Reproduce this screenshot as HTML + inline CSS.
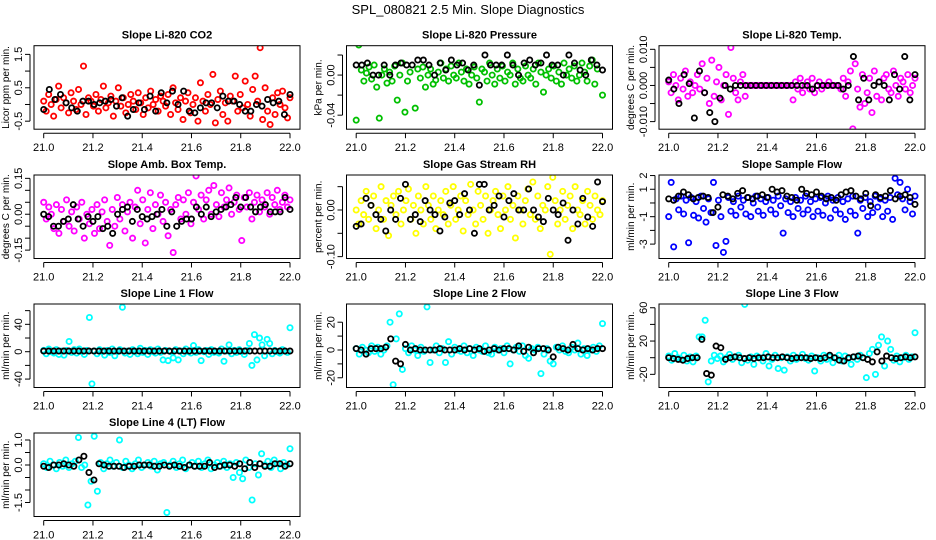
<!DOCTYPE html>
<html><head><meta charset="utf-8">
<style>
html,body{margin:0;padding:0;background:#fff;}
svg{display:block;font-family:"Liberation Sans",Arial,sans-serif;}
</style></head>
<body>
<svg id="chart" width="936" height="540" viewBox="0 0 936 540" xmlns="http://www.w3.org/2000/svg">
<rect width="936" height="540" fill="#fff"/>
<text x="468" y="14" text-anchor="middle" font-size="13">SPL_080821  2.5 Min. Slope Diagnostics</text>
</svg>
<script>
// ---- data (x = time 21.0..22.0, points evenly spaced) ----
const xTicks = [21.0, 21.2, 21.4, 21.6, 21.8, 22.0];
const xTickLabels = ["21.0","21.2","21.4","21.6","21.8","22.0"];

const titles = ["Slope Li-820 CO2","Slope Li-820 Pressure","Slope Li-820 Temp.","Slope Amb. Box Temp.","Slope Gas Stream RH","Slope Sample Flow","Slope Line 1 Flow","Slope Line 2 Flow","Slope Line 3 Flow","Slope Line 4 (LT) Flow"];
const yTitles = ["Licor ppm per min.","kPa per min.","degrees C per min.","degrees C per min.","percent per min.","ml/min per min.","ml/min per min.","ml/min per min.","ml/min per min.","ml/min per min."];
const seriesColors = ["#ff0000","#00c000","#ff00ff","#ff00ff","#ffff00","#0000ff","#00ffff","#00ffff","#00ffff","#00ffff"];

const co2Color = [0.1,-0.2,0.3,0.0,-0.35,0.15,0.55,-0.1,0.2,0.05,-0.25,0.35,0.1,-0.15,0.45,0.0,1.15,-0.3,0.2,0.1,-0.05,0.3,-0.2,0.15,0.55,-0.1,0.05,0.25,-0.35,0.1,0.5,-0.05,0.2,-0.25,0.0,0.3,0.1,-0.15,0.35,0.05,-0.3,0.2,-0.1,0.4,0.0,0.15,-0.2,0.25,0.1,-0.05,0.3,-0.3,0.5,0.05,-0.15,0.2,-0.45,0.1,0.35,-0.25,0.0,0.2,-0.5,0.65,0.1,-0.2,0.3,0.0,0.9,-0.55,0.15,0.4,-0.3,0.05,-0.5,0.25,0.1,0.85,-0.2,0.3,-0.1,0.7,0.0,-0.35,0.45,0.85,0.1,1.7,-0.45,0.5,-0.2,-0.6,0.2,-0.3,0.35,0.0,0.4,-0.1,-0.4,0.2];
const co2Black = [-0.15,0.45,0.15,0.3,0.05,-0.1,-0.2,0.1,0.1,0.0,0.05,0.1,0.15,-0.05,0.2,-0.35,-0.15,0.05,-0.15,0.25,-0.2,0.35,0.05,0.4,0.0,0.4,-0.2,-0.25,-0.1,0.05,0.05,-0.1,0.25,0.1,0.1,0.0,-0.2,-0.2,0.0,-0.05,0.15,0.05,0.1,-0.3,0.3];
const presColor = [-0.045,0.03,0.005,-0.006,0.002,0.008,-0.004,0.01,-0.012,-0.043,0.0,0.006,-0.008,0.003,-0.006,0.009,-0.025,0.0,0.012,-0.037,-0.006,0.003,-0.06,-0.033,0.006,-0.003,0.008,-0.012,0.0,0.006,-0.009,-0.005,0.003,0.012,-0.003,0.006,-0.006,0.009,0.0,-0.003,0.012,0.003,-0.006,0.006,-0.009,0.0,0.008,-0.003,-0.027,0.006,0.003,-0.006,0.012,0.0,-0.009,0.006,-0.003,0.009,-0.006,0.003,0.0,0.012,-0.009,0.006,-0.003,-0.006,0.009,0.0,-0.003,0.006,-0.009,0.012,0.003,-0.017,0.0,0.006,-0.003,0.009,-0.006,0.003,-0.009,0.012,0.0,0.006,-0.003,0.009,-0.006,0.0,0.012,0.003,-0.006,0.009,0.015,-0.009,0.006,0.04,-0.02];
const presBlack = [0.01,0.01,0.012,0.0,0.0,0.01,0.0,0.01,0.012,0.01,0.01,0.015,0.015,0.01,0.0,0.012,0.005,0.015,0.01,0.012,0.005,0.01,-0.01,0.02,0.01,0.01,0.01,0.02,0.01,0.0,0.012,0.015,0.01,0.012,0.02,0.01,0.01,0.0,0.02,0.012,0.005,0.0,0.015,0.01,0.005];
const liTempColor = [0.001,-0.002,0.003,0,-0.004,0.002,-0.001,0.004,-0.003,0.001,-0.002,0,0.003,-0.001,0.006,-0.002,0.002,-0.005,0.007,-0.003,0.001,0.005,-0.004,0,0.003,-0.008,0.0105,0.002,-0.002,-0.004,0.001,0.003,-0.003,0,0,0,0,0,0,0,0,0,0,0,0,0,0,0,0,0,0,0,-0.004,0.001,-0.001,0.002,-0.002,0,0.001,-0.001,0.002,-0.002,0,0.001,-0.001,0,0,0.001,0,0,0,0,-0.001,0.002,-0.003,0.001,0.004,-0.012,0.006,-0.001,-0.006,0.003,-0.005,-0.002,0.002,-0.0075,0.004,-0.003,0.001,-0.004,0.002,0.003,-0.001,-0.002,0.004,0,-0.003,0.002,0.001,-0.001,0.003,-0.002,0,0.002];
const liTempBlack = [0.0015,-0.001,-0.005,0.003,0.0005,-0.009,0.004,-0.002,-0.0075,-0.01,-0.0035,0,-0.001,0,0,0,0,0,0,0,0,0,0,0,0,0,0,0,-0.001,0,0,0,0,0,-0.001,0,0.008,-0.004,0.002,-0.004,0,0.001,0,-0.004,0.003,-0.001,0.008,-0.004,0.003];
const boxTempColor = [0.05,-0.02,0.03,0.0,-0.06,0.04,-0.08,0.02,-0.03,0.06,-0.05,0.01,-0.07,0.03,-0.02,0.05,-0.1,0.0,-0.04,0.02,-0.08,0.04,-0.06,0.01,0.06,-0.03,-0.13,0.02,-0.05,0.07,-0.02,0.04,-0.07,0.01,0.05,-0.1,0.03,0.1,-0.04,0.06,-0.12,0.02,0.09,-0.06,0.04,0.0,0.08,-0.03,0.05,-0.09,0.02,-0.16,0.04,0.07,-0.02,0.06,0.0,0.09,-0.04,0.05,0.16,0.02,0.08,-0.02,0.06,0.1,0.0,0.12,0.04,-0.01,0.09,0.03,0.06,0.11,0.0,0.05,0.08,0.02,-0.11,0.07,0.03,0.09,-0.02,0.05,0.08,0.01,0.06,0.03,0.09,0.0,0.07,0.04,0.1,0.02,0.05,0.08,0.03,0.06];
const boxTempBlack = [0.0,-0.01,-0.05,-0.05,-0.03,-0.02,0.04,-0.02,-0.05,-0.01,-0.03,-0.01,-0.06,-0.05,-0.08,0.0,0.02,0.03,-0.03,0.02,-0.01,-0.02,-0.01,0.0,0.02,-0.05,0.01,-0.05,-0.03,-0.02,-0.02,0.03,0.0,0.03,-0.01,0.01,0.02,0.03,0.04,0.07,0.03,0.07,0.03,0.01,0.03,0.04,0.01,0.01,0.01,0.07,0.02];
const rhColor = [0.0,-0.03,0.02,-0.01,0.04,-0.02,0.01,0.03,-0.04,0.0,0.05,-0.02,0.02,-0.055,0.01,0.03,-0.01,0.04,-0.03,0.0,0.02,0.045,-0.02,0.01,-0.05,0.03,0.0,-0.03,0.05,0.01,-0.02,0.03,-0.04,0.0,0.02,-0.01,0.04,-0.03,0.01,0.05,-0.02,0.0,0.03,-0.045,0.02,-0.01,0.055,0.0,-0.03,0.04,0.01,-0.02,0.03,-0.05,0.0,0.02,0.04,-0.01,-0.04,0.03,0.0,0.05,-0.02,0.01,-0.06,0.03,0.0,-0.03,0.02,0.045,-0.01,0.06,-0.02,0.03,-0.04,0.01,0.0,0.05,-0.095,0.07,0.02,-0.03,0.0,0.04,-0.02,0.01,0.03,-0.04,0.05,0.0,-0.01,0.02,-0.03,0.04,0.01,-0.02,0.03,0.0,-0.01,0.02];
const rhBlack = [-0.035,-0.03,0.025,0.01,-0.01,-0.02,-0.045,0.0,-0.02,0.025,0.055,-0.02,-0.01,-0.025,0.02,0.0,-0.01,-0.045,-0.015,0.015,0.02,-0.01,0.035,0.0,-0.05,0.055,0.055,0.0,0.01,0.03,-0.015,0.02,0.035,0.0,0.0,0.045,0.0,-0.015,-0.025,0.025,0.0,-0.01,0.015,-0.065,0.0,-0.03,0.025,-0.015,-0.035,0.06,0.018];
const sampleColor = [-1,1.5,-3.2,0.3,-0.5,0.5,-0.8,0.2,-2.9,0.4,-0.9,0.1,-1.1,0.5,-0.4,-1.4,0.3,-0.7,1.5,-3.1,0.2,-1.0,-3.6,-2.8,0.4,-0.6,0.1,-0.9,0.5,-0.3,0.2,-0.8,0.4,-1.0,0.0,0.5,-0.6,0.3,-0.9,0.1,0.4,-0.5,0.2,-0.8,0.5,-0.2,-2.2,0.3,-0.7,0.1,-1.0,0.4,-0.4,0.2,-0.8,0.5,-0.5,0.1,-1.0,0.3,-0.6,0.4,-0.9,0.0,0.5,-1.1,0.2,-0.5,0.4,-0.8,0.1,-1.2,0.3,-0.6,0.5,-0.9,-2.2,0.2,-0.4,0.4,-1.0,0.1,-0.7,0.5,-0.3,0.3,-1.0,0.2,-0.6,0.4,-1.2,1.8,0.6,1.5,0.3,-0.5,1.0,0.1,-0.8,0.5];
const sampleBlack = [0.3,0.2,0.5,0.8,0.6,0.3,0.4,0.5,0.4,-0.7,-0.3,0.6,0.5,0.3,0.7,0.9,0.4,0.3,0.5,0.6,0.4,1.0,0.8,0.9,0.5,0.4,0.2,1.0,0.7,0.6,0.8,0.5,0.3,0.4,0.2,0.6,0.8,0.9,0.5,0.3,0.7,-0.2,0.6,0.4,0.5,0.9,0.3,0.5,0.6,0.4,-0.1];
const line1Color = [2,-3,4,0,-2,3,-4,1,-5,2,15,-1,3,-2,4,0,-4,2,50,-47,1,-3,3,0,-5,2,-1,4,-6,0,3,65,-2,1,-4,3,0,-3,5,-1,2,-4,3,0,-2,4,-1,-12,2,-13,0,-9,3,-12,1,-3,4,0,-2,9,-1,3,-13,0,2,-4,3,-1,0,-2,4,-14,1,10,-3,2,-1,3,0,-4,2,12,-20,25,-12,20,10,-6,18,12,-3,2,0,-2,3,1,-1,35];
const line1Black = [1,1,1,1,1,1,1,1,1,1,1,1,1,1,1,1,1,1,1,1,1,1,1,1,1,1,1,1,1,1,1,1,1,1,1,1,1,1,1,1,1,1,1,1,1,1,1,1,1,1];
const line2Color = [1,-3,2,0,-2,3,-1,2,-3,0,3,20,-25,8,26,-14,1,-2,3,0,-4,2,-1,31,-9,0,3,-2,1,-9,6,-3,2,0,-1,3,-2,1,-4,2,0,-1,3,-2,-3,2,0,1,-2,3,-10,0,2,-1,3,-4,-6,1,0,2,-17,-3,1,-8,-10,2,0,3,-1,-2,2,0,5,-3,1,-4,0,2,-1,3,19];
const line2Black = [1,0,-3,1,1,1,2,8,-8,-10,4,0,1,0,0,0,0,1,0,0,0,1,0,1,0,1,-1,0,1,0,1,1,0,3,-1,2,-2,1,1,0,-5,2,1,0,4,1,0,1,0,1,1];
const line3Color = [2,-3,5,0,-2,3,-4,1,-5,2,25,25,45,-29,-4,3,-1,2,-5,0,4,-2,1,3,-6,64,-3,1,-8,2,0,-4,5,-10,-2,3,-13,0,-15,1,-4,3,-2,0,4,-1,-3,2,-16,0,-4,3,-2,1,-6,0,3,-4,2,-1,-8,1,-2,3,0,-24,5,10,-20,15,25,-10,20,10,-3,2,-5,0,3,-2,1,30];
const line3Black = [0,-1,-2,-3,-1,0,0,22,-19,-21,14,12,-2,0,1,0,-1,0,-1,0,0,1,0,0,1,0,-1,0,0,0,-1,0,-1,0,3,0,-3,-4,0,1,2,0,-2,-5,7,-4,2,0,-1,0,1,0,1];
const line4Color = [0.05,-0.1,0.15,0.0,-0.15,0.1,-0.05,0.2,-0.1,0.05,0.15,1.1,-0.1,0.0,-1.6,-0.65,1.15,-1.05,0.1,-0.15,0.05,0.2,-0.05,0.1,1.0,-0.1,0.15,0.0,-0.15,0.05,0.2,-0.1,0.0,0.1,-0.05,0.15,-0.2,0.05,0.1,-1.9,0.0,0.15,-0.1,0.05,0.2,-0.15,0.0,0.1,-0.05,0.15,-0.1,0.05,0.2,-0.15,0.0,0.1,-0.05,0.15,-0.1,0.05,-0.5,0.1,-0.3,-0.55,0.2,-0.1,-1.4,0.05,-0.4,0.45,0.0,0.15,-0.1,0.2,0.05,-0.15,0.1,0.0,0.65];
const line4Black = [-0.05,-0.1,0.0,0.0,0.05,0.0,-0.05,0.2,0.35,-0.3,-0.6,0.05,0.0,-0.05,-0.05,-0.05,-0.1,-0.05,-0.05,0.0,0.0,0.0,-0.05,-0.05,0.0,-0.05,0.0,-0.05,-0.1,0.0,-0.05,-0.05,-0.05,0.1,-0.1,-0.05,0.0,0.0,-0.05,0.05,-0.15,0.1,-0.1,0.05,-0.05,-0.05,0.05,0.05,-0.05,0.05];

const colorSeries = [co2Color,presColor,liTempColor,boxTempColor,rhColor,sampleColor,line1Color,line2Color,line3Color,line4Color];
const blackSeries = [co2Black,presBlack,liTempBlack,boxTempBlack,rhBlack,sampleBlack,line1Black,line2Black,line3Black,line4Black];

const yTickVals = [[-0.5,0,0.5,1,1.5],[-0.04,-0.02,0,0.02],[-0.01,-0.005,0,0.005,0.01],[-0.15,-0.1,-0.05,0,0.05,0.1,0.15],[-0.1,-0.05,0,0.05],[-3,-2,-1,0,1,2],[-40,-20,0,20,40,60],[-20,-10,0,10,20],[-20,0,20,40,60],[-1.5,-1,-0.5,0,0.5,1]];
const yTickLabels = [["-0.5","","0.5","","1.5"],["-0.04","","0.00",""],["-0.010","","0.000","","0.010"],["-0.15","","","0.00","","","0.15"],["-0.10","","0.00",""],["-3","","-1","","1","2"],["-40","","0","","40",""],["-20","","0","","20"],["-20","","20","","60"],["-1.5","","","0.0","","1.0"]];
const yDomains = [[-0.74,1.76],[-0.054,0.0293],[-0.0121,0.011],[-0.185,0.164],[-0.104,0.075],[-4.05,2.04],[-52.3,69.7],[-27,33.1],[-35.8,64.5],[-2.06,1.28]];

// ---- layout ----
const colLeft = [34, 346.5, 659];
const rowTop = [45.7, 175, 304, 433];
const boxW = 266, boxH = 83.5;
const svg = document.getElementById('chart');
const NS = "http://www.w3.org/2000/svg";
function mk(tag, attrs, parent){ const e=document.createElementNS(NS,tag); for(const k in attrs) e.setAttribute(k,attrs[k]); (parent||svg).appendChild(e); return e; }

for (let p = 0; p < 10; p++) {
  const L = colLeft[p % 3], T = rowTop[Math.floor(p / 3)];
  const g = mk('g', {});
  
  
  const xs = v => L + 9.7 + (v - 21.0) * 246.3;
  const [lo, hi] = yDomains[p];
  const ys = v => T + boxH - (v - lo) / (hi - lo) * boxH;

  const tt = mk('text', {x: L + boxW / 2, y: T - 7, 'text-anchor': 'middle', 'font-size': 11, 'font-weight': 'bold'}, g);
  
  
  tt.textContent = titles[p];

  const yt = mk('text', {x: 0, y: 0, 'text-anchor': 'middle', 'font-size': 10, transform: `translate(${L - 25},${T + boxH / 2}) rotate(-90)`}, g);
  
  
  yt.textContent = yTitles[p];

  const xa = mk('g', {}, g);
  
  
  mk('line', {x1: xs(21.0), x2: xs(22.0), y1: T + boxH + 4, y2: T + boxH + 4, stroke: '#000', 'stroke-width': 1}, xa);
  xTicks.forEach((v, i) => {
    mk('line', {x1: xs(v), x2: xs(v), y1: T + boxH + 4, y2: T + boxH + 9, stroke: '#000', 'stroke-width': 1}, xa);
    const t = mk('text', {x: xs(v), y: T + boxH + 22, 'text-anchor': 'middle', 'font-size': 11}, xa);
    
    
    t.textContent = xTickLabels[i];
  });
  const ya = mk('g', {}, g);
  
  
  const yv = yTickVals[p];
  mk('line', {x1: L - 4, x2: L - 4, y1: ys(yv[0]), y2: ys(yv[yv.length - 1]), stroke: '#000', 'stroke-width': 1}, ya);
  yv.forEach((v, i) => {
    mk('line', {x1: L - 9, x2: L - 4, y1: ys(v), y2: ys(v), stroke: '#000', 'stroke-width': 1}, ya);
    if (yTickLabels[p][i]) {
      const t = mk('text', {x: 0, y: 0, 'text-anchor': 'middle', 'font-size': 11, transform: `translate(${L - 12},${ys(v)}) rotate(-90)`}, ya);
      
      
      t.textContent = yTickLabels[p][i];
    }
  });

  const clip = 'clip' + p;
  const cp = mk('clipPath', {id: clip}, g);
  mk('rect', {x: L, y: T, width: boxW, height: boxH}, cp);
  const pts = mk('g', {'clip-path': `url(#${clip})`, fill: 'none', 'stroke-width': 1.8}, g);
  
  
  [[colorSeries[p], seriesColors[p], 'colored-point'], [blackSeries[p], '#000', 'black-point']].forEach(([arr, col, nm]) => {
    const n = arr.length;
    arr.forEach((v, i) => {
      const c = mk('circle', {cx: xs(21 + i / (n - 1)), cy: ys(v), r: 2.6, stroke: col}, pts);
      
      
    });
  });

  const box = mk('rect', {x: L, y: T, width: boxW, height: boxH, fill: 'none', stroke: '#000', 'stroke-width': 1}, g);
  
  
}
</script>
</body></html>
